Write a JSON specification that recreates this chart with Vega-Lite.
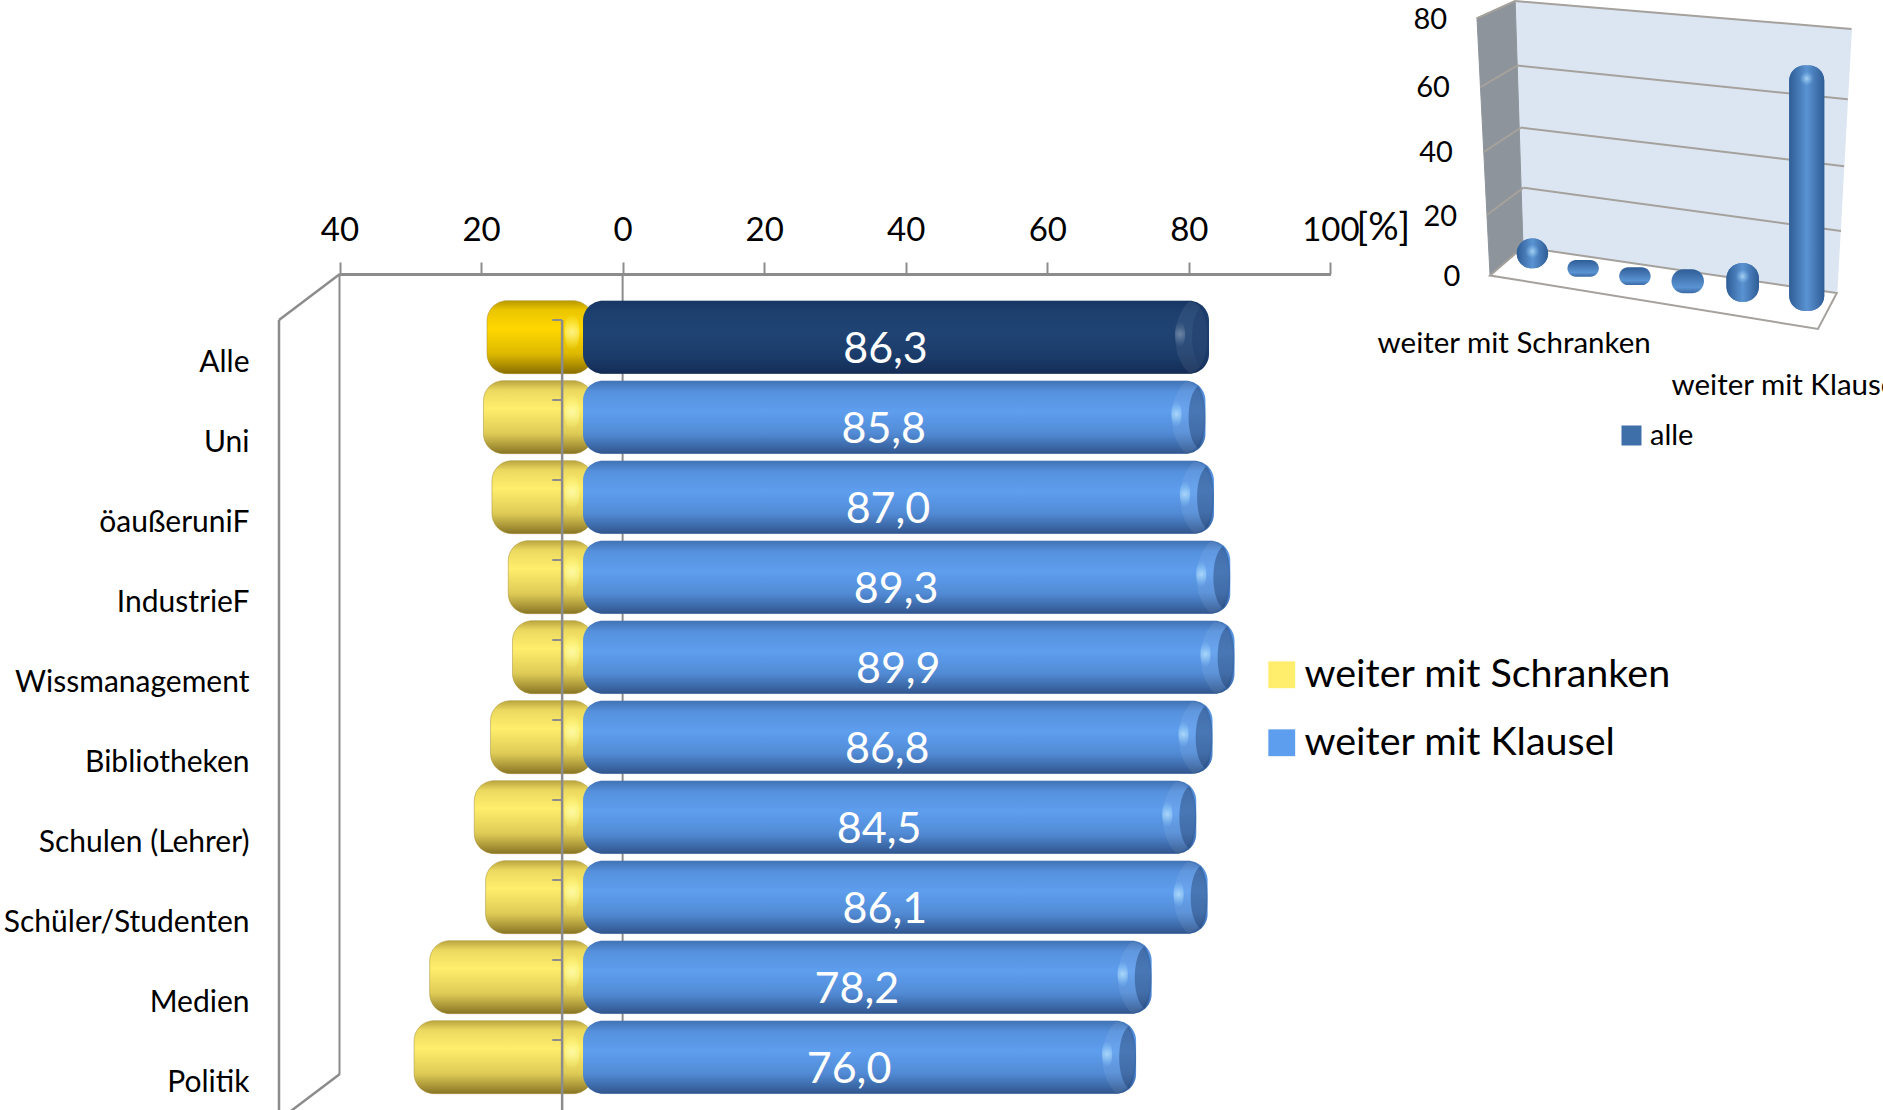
{
  "$schema": "https://vega.github.io/schema/vega-lite/v6.json",
  "width": 1883,
  "height": 1110,
  "padding": 0,
  "autosize": "none",
  "background": "white",
  "config": {
    "view": {"stroke": null},
    "text": {"font": "Lato"},
    "axis": {"labelFont": "Lato", "titleFont": "Lato", "grid": false},
    "legend": {"labelFont": "Lato"}
  },
  "datasets": {
    "umfrage": [
      {"gruppe": "Alle", "serie": "weiter mit Klausel", "wert": 86.3, "beschriftung": "86,3"},
      {"gruppe": "Uni", "serie": "weiter mit Klausel", "wert": 85.8, "beschriftung": "85,8"},
      {"gruppe": "öaußeruniF", "serie": "weiter mit Klausel", "wert": 87.0, "beschriftung": "87,0"},
      {"gruppe": "IndustrieF", "serie": "weiter mit Klausel", "wert": 89.3, "beschriftung": "89,3"},
      {"gruppe": "Wissmanagement", "serie": "weiter mit Klausel", "wert": 89.9, "beschriftung": "89,9"},
      {"gruppe": "Bibliotheken", "serie": "weiter mit Klausel", "wert": 86.8, "beschriftung": "86,8"},
      {"gruppe": "Schulen (Lehrer)", "serie": "weiter mit Klausel", "wert": 84.5, "beschriftung": "84,5"},
      {"gruppe": "Schüler/Studenten", "serie": "weiter mit Klausel", "wert": 86.1, "beschriftung": "86,1"},
      {"gruppe": "Medien", "serie": "weiter mit Klausel", "wert": 78.2, "beschriftung": "78,2"},
      {"gruppe": "Politik", "serie": "weiter mit Klausel", "wert": 76.0, "beschriftung": "76,0"},
      {"gruppe": "Alle", "serie": "weiter mit Schranken", "wert": -13.7},
      {"gruppe": "Uni", "serie": "weiter mit Schranken", "wert": -14.2},
      {"gruppe": "öaußeruniF", "serie": "weiter mit Schranken", "wert": -13.0},
      {"gruppe": "IndustrieF", "serie": "weiter mit Schranken", "wert": -10.7},
      {"gruppe": "Wissmanagement", "serie": "weiter mit Schranken", "wert": -10.1},
      {"gruppe": "Bibliotheken", "serie": "weiter mit Schranken", "wert": -13.2},
      {"gruppe": "Schulen (Lehrer)", "serie": "weiter mit Schranken", "wert": -15.5},
      {"gruppe": "Schüler/Studenten", "serie": "weiter mit Schranken", "wert": -13.9},
      {"gruppe": "Medien", "serie": "weiter mit Schranken", "wert": -21.8},
      {"gruppe": "Politik", "serie": "weiter mit Schranken", "wert": -24.0}
    ],
    "alle": [
      {"kategorie": "weiter mit Schranken", "reihe": "alle", "links": -0.12, "rechts": 0.48, "mitte": 0.18, "basis": 2.4, "spitze": 11.7, "form": "hoch"},
      {"kategorie": "Antwort 2", "reihe": "alle", "links": 0.85, "rechts": 1.45, "mitte": 1.15, "basis": -0.2, "spitze": 5.0, "form": "flach"},
      {"kategorie": "Antwort 3", "reihe": "alle", "links": 1.84, "rechts": 2.44, "mitte": 2.14, "basis": -2.8, "spitze": 2.7, "form": "flach"},
      {"kategorie": "Antwort 4", "reihe": "alle", "links": 2.84, "rechts": 3.46, "mitte": 3.15, "basis": -5.4, "spitze": 2.1, "form": "flach"},
      {"kategorie": "Antwort 5", "reihe": "alle", "links": 3.89, "rechts": 4.51, "mitte": 4.2, "basis": -8.0, "spitze": 3.95, "form": "hoch"},
      {"kategorie": "weiter mit Klausel", "reihe": "alle", "links": 5.09, "rechts": 5.76, "mitte": 5.425, "basis": -10.8, "spitze": 65.5, "form": "hoch"}
    ],
    "flaechen": [
      {"flaeche": "Rückwand", "i": 0, "x": -0.15, "y": 85.6},
      {"flaeche": "Rückwand", "i": 1, "x": 6.28, "y": 76.9},
      {"flaeche": "Rückwand", "i": 2, "x": 6.0, "y": -5.3},
      {"flaeche": "Rückwand", "i": 3, "x": 0.0, "y": 9.0},
      {"flaeche": "Seitenwand", "i": 0, "x": -0.88, "y": 80.3},
      {"flaeche": "Seitenwand", "i": 1, "x": -0.15, "y": 85.6},
      {"flaeche": "Seitenwand", "i": 2, "x": 0.0, "y": 9.0},
      {"flaeche": "Seitenwand", "i": 3, "x": -0.63, "y": 0.16},
      {"flaeche": "Boden", "i": 0, "x": -0.63, "y": 0.16},
      {"flaeche": "Boden", "i": 1, "x": 0.0, "y": 9.0},
      {"flaeche": "Boden", "i": 2, "x": 6.0, "y": -5.3},
      {"flaeche": "Boden", "i": 3, "x": 5.64, "y": -16.5}
    ]
  },
  "layer": [
    {
      "data": {"values": [{"wert": -40}, {"wert": 0}]},
      "mark": {"type": "rule", "stroke": "#8c8c8c", "strokeWidth": 2},
      "encoding": {
        "x": {
          "field": "wert",
          "type": "quantitative",
          "scale": {"domain": [-40, 100], "range": [339.5, 1330.4]},
          "axis": {
            "orient": "top",
            "offset": -274,
            "values": [-40, -20, 0, 20, 40, 60, 80, 100],
            "labelExpr": "abs(datum.value)",
            "labelFontSize": 33,
            "labelColor": "black",
            "labelPadding": 15,
            "labelFlush": false,
            "tickSize": 12,
            "tickWidth": 2,
            "tickColor": "#8c8c8c",
            "domainColor": "#8c8c8c",
            "domainWidth": 3,
            "title": "[%]",
            "titleFontSize": 38,
            "titleFontWeight": "normal",
            "titleColor": "black",
            "titleAlign": "left",
            "titleBaseline": "middle",
            "titleX": 1356,
            "titleY": -46
          }
        },
        "y": {"datum": 0, "type": "quantitative", "scale": {"domain": [0, 10], "range": [274, 1074]}, "axis": null},
        "y2": {"datum": 10}
      }
    },
    {
      "data": {"values": [
        {"x": -40, "x2": -40, "y": 0, "y2": 10},
        {"x": -31.4, "x2": -40, "y": -0.575, "y2": 0},
        {"x": -31.4, "x2": -40, "y": 9.425, "y2": 10}
      ]},
      "mark": {"type": "rule", "stroke": "#8c8c8c", "strokeWidth": 2.5},
      "encoding": {
        "x": {"field": "x", "type": "quantitative", "scale": {"domain": [-40, 100], "range": [279, 1270]}, "axis": null},
        "x2": {"field": "x2"},
        "y": {"field": "y", "type": "quantitative", "scale": {"domain": [0, 10], "range": [320, 1120]}, "axis": null},
        "y2": {"field": "y2"}
      }
    },
    {
      "data": {"name": "umfrage"},
      "encoding": {
        "y": {
          "field": "gruppe",
          "type": "nominal",
          "scale": {
            "domain": ["Alle", "Uni", "öaußeruniF", "IndustrieF", "Wissmanagement", "Bibliotheken", "Schulen (Lehrer)", "Schüler/Studenten", "Medien", "Politik"],
            "range": [297.2, 1097.2],
            "paddingInner": 0.0875,
            "paddingOuter": 0.04375
          },
          "axis": null
        },
        "x": {"field": "wert", "type": "quantitative", "scale": {"domain": [-40, 100], "range": [314.8, 1306]}, "axis": null}
      },
      "layer": [
        {
          "transform": [{"filter": "datum.serie === 'weiter mit Schranken'"}],
          "mark": {"type": "bar", "cornerRadius": 20, "xOffset": -14, "x2Offset": -5},
          "encoding": {
            "x2": {"datum": 0},
            "color": {
              "condition": {"test": "datum.gruppe === 'Alle'", "value": "#ffd800"},
              "field": "serie",
              "type": "nominal",
              "scale": {"domain": ["weiter mit Schranken", "weiter mit Klausel"], "range": ["#ffee6c", "#5e9eee"]},
              "legend": {
                "orient": "none", "legendX": 1262, "legendY": 655, "title": null,
                "symbolType": "square", "symbolSize": 720, "symbolStrokeWidth": 0,
                "labelFontSize": 39.5, "labelColor": "black", "labelOffset": 3, "rowPadding": 27,
                "labelLimit": 500
              }
            }
          }
        },
        {
          "transform": [{"filter": "datum.serie === 'weiter mit Schranken'"}],
          "mark": {
            "type": "bar", "cornerRadius": 20, "xOffset": -14, "x2Offset": -5,
            "stroke": "#a88f3a", "strokeWidth": 1, "strokeOpacity": 0.5,
            "fill": {"gradient": "linear", "x1": 0, "y1": 0, "x2": 0, "y2": 1, "stops": [
              {"offset": 0, "color": "rgba(90,65,0,0.42)"},
              {"offset": 0.13, "color": "rgba(90,65,0,0.12)"},
              {"offset": 0.38, "color": "rgba(90,65,0,0)"},
              {"offset": 0.72, "color": "rgba(90,65,0,0.2)"},
              {"offset": 1, "color": "rgba(70,50,0,0.65)"}
            ]}
          },
          "encoding": {"x2": {"datum": 0}}
        },
        {
          "transform": [{"filter": "datum.serie === 'weiter mit Schranken'"}],
          "mark": {
            "type": "point", "filled": true, "size": 5329, "xOffset": -26, "yOffset": -5,
            "fill": {"gradient": "radial", "stops": [
              {"offset": 0, "color": "rgba(255,255,190,1)"},
              {"offset": 1, "color": "rgba(255,255,120,0)"}
            ]},
            "shape": "M-0.2,0 A0.2,0.5 0 1,1 0.2,0 A0.2,0.5 0 1,1 -0.2,0 Z"
          },
          "encoding": {"x": {"datum": 0, "type": "quantitative"}}
        },
        {
          "transform": [{"filter": "datum.serie === 'weiter mit Klausel'"}],
          "mark": {"type": "bar", "cornerRadius": 20, "x2Offset": -15},
          "encoding": {
            "x2": {"datum": 0},
            "color": {
              "condition": {"test": "datum.gruppe === 'Alle'", "value": "#1f4373"},
              "field": "serie",
              "type": "nominal",
              "scale": {"domain": ["weiter mit Schranken", "weiter mit Klausel"], "range": ["#ffee6c", "#5e9eee"]},
              "legend": {
                "orient": "none", "legendX": 1262, "legendY": 655, "title": null,
                "symbolType": "square", "symbolSize": 720, "symbolStrokeWidth": 0,
                "labelFontSize": 39.5, "labelColor": "black", "labelOffset": 3, "rowPadding": 27,
                "labelLimit": 500
              }
            }
          }
        },
        {
          "transform": [{"filter": "datum.serie === 'weiter mit Klausel'"}],
          "mark": {
            "type": "bar", "cornerRadius": 20, "x2Offset": -15,
            "fill": {"gradient": "linear", "x1": 0, "y1": 0, "x2": 0, "y2": 1, "stops": [
              {"offset": 0, "color": "rgba(10,30,70,0.35)"},
              {"offset": 0.15, "color": "rgba(10,30,70,0.1)"},
              {"offset": 0.42, "color": "rgba(10,30,70,0)"},
              {"offset": 0.72, "color": "rgba(10,30,70,0.15)"},
              {"offset": 1, "color": "rgba(10,25,60,0.55)"}
            ]}
          },
          "encoding": {"x2": {"datum": 0}}
        },
        {
          "transform": [{"filter": "datum.serie === 'weiter mit Klausel'"}],
          "mark": {
            "type": "point", "filled": true, "fill": "#ffffff", "opacity": 0.07, "size": 5329,
            "shape": "M-0.55,-0.98 C-1.05,-0.5 -1.05,0.5 -0.55,0.98 C-0.2,0.98 -0.05,0.5 -0.05,0 C-0.05,-0.5 -0.2,-0.98 -0.55,-0.98 Z"
          }
        },
        {
          "transform": [{"filter": "datum.serie === 'weiter mit Klausel'"}],
          "mark": {
            "type": "point", "filled": true, "fill": "#1d3a66", "opacity": 0.42, "size": 5329,
            "shape": "M-0.2,-0.85 C-0.55,-0.6 -0.55,0.6 -0.2,0.85 C-0.04,0.65 0,0.3 0,0 C0,-0.3 -0.04,-0.65 -0.2,-0.85 Z"
          }
        },
        {
          "transform": [{"filter": "datum.serie === 'weiter mit Klausel' && datum.gruppe !== 'Alle'"}],
          "mark": {
            "type": "point", "filled": true, "size": 5329, "xOffset": -29, "yOffset": -3,
            "fill": {"gradient": "radial", "stops": [
              {"offset": 0, "color": "rgba(200,238,255,1)"},
              {"offset": 1, "color": "rgba(140,205,255,0)"}
            ]},
            "shape": "M-0.14,0 A0.14,0.36 0 1,1 0.14,0 A0.14,0.36 0 1,1 -0.14,0 Z"
          }
        },
        {
          "transform": [{"filter": "datum.serie === 'weiter mit Klausel' && datum.gruppe === 'Alle'"}],
          "mark": {
            "type": "point", "filled": true, "size": 5329, "xOffset": -29, "yOffset": -3,
            "fill": {"gradient": "radial", "stops": [
              {"offset": 0, "color": "rgba(140,160,185,1)"},
              {"offset": 1, "color": "rgba(90,115,150,0)"}
            ]},
            "shape": "M-0.14,0 A0.14,0.36 0 1,1 0.14,0 A0.14,0.36 0 1,1 -0.14,0 Z"
          }
        }
      ]
    },
    {
      "data": {"name": "umfrage"},
      "transform": [{"filter": "datum.serie === 'weiter mit Klausel'"}],
      "mark": {"type": "text", "fontSize": 43, "fill": "white", "align": "center", "baseline": "middle", "yOffset": 13},
      "encoding": {
        "x": {"field": "wert", "type": "quantitative", "scale": {"domain": [0, 100], "range": [580, 934]}, "axis": null},
        "y": {
          "field": "gruppe",
          "type": "nominal",
          "scale": {
            "domain": ["Alle", "Uni", "öaußeruniF", "IndustrieF", "Wissmanagement", "Bibliotheken", "Schulen (Lehrer)", "Schüler/Studenten", "Medien", "Politik"],
            "range": [297.2, 1097.2],
            "paddingInner": 0.0875,
            "paddingOuter": 0.04375
          },
          "axis": null
        },
        "text": {"field": "beschriftung"}
      }
    },
    {
      "data": {"values": [{"x": 0, "x2": 0, "y": 0, "y2": 10}]},
      "mark": {"type": "rule", "stroke": "#8c8c8c", "strokeWidth": 2.5},
      "encoding": {
        "x": {"field": "x", "type": "quantitative", "scale": {"domain": [-40, 100], "range": [279, 1270]}, "axis": null},
        "x2": {"field": "x2"},
        "y": {"field": "y", "type": "quantitative", "scale": {"domain": [0, 10], "range": [320, 1120]}, "axis": null},
        "y2": {"field": "y2"}
      }
    },
    {
      "data": {"name": "umfrage"},
      "transform": [{"filter": "datum.serie === 'weiter mit Klausel'"}],
      "mark": {"type": "rule", "stroke": "#8c8c8c", "strokeWidth": 2, "yOffset": -3},
      "encoding": {
        "x": {"datum": -1.4, "type": "quantitative", "scale": {"domain": [-40, 100], "range": [279, 1270]}, "axis": null},
        "x2": {"datum": 0},
        "y": {
          "field": "gruppe",
          "type": "nominal",
          "bandPosition": 0,
          "scale": {
            "domain": ["Alle", "Uni", "öaußeruniF", "IndustrieF", "Wissmanagement", "Bibliotheken", "Schulen (Lehrer)", "Schüler/Studenten", "Medien", "Politik"],
            "range": [323, 1123]
          },
          "axis": {
            "orient": "left",
            "offset": -249,
            "title": null,
            "domain": false,
            "ticks": false,
            "labelPadding": 0,
            "labelFontSize": 30,
            "labelColor": "black",
            "labelLimit": 400
          }
        }
      }
    },
    {
      "data": {"name": "flaechen"},
      "encoding": {
        "x": {"field": "x", "type": "quantitative", "scale": {"domain": [0, 6], "range": [1523, 1836.8]}, "axis": null},
        "y": {"field": "y", "type": "quantitative", "scale": {"domain": [0, 80], "range": [276, 19]}, "axis": null},
        "order": {"field": "i"}
      },
      "layer": [
        {
          "transform": [{"filter": "datum.flaeche === 'Rückwand'"}],
          "mark": {"type": "line", "interpolate": "linear-closed", "fill": "#dce6f2", "stroke": "#dce6f2", "strokeWidth": 1}
        },
        {
          "transform": [{"filter": "datum.flaeche === 'Seitenwand'"}],
          "mark": {"type": "line", "interpolate": "linear-closed", "fill": "#8d949b", "stroke": "#8d949b", "strokeWidth": 1}
        },
        {
          "transform": [{"filter": "datum.flaeche === 'Boden'"}],
          "mark": {"type": "line", "interpolate": "linear-closed", "fill": "#ffffff", "stroke": "#a5a19c", "strokeWidth": 2}
        }
      ]
    },
    {
      "data": {"values": [
        {"x": -0.15, "y": 85.6, "x2": 6.28, "y2": 76.9},
        {"x": -0.11, "y": 65.5, "x2": 6.21, "y2": 55.0},
        {"x": -0.04, "y": 46.2, "x2": 6.14, "y2": 34.2},
        {"x": 0.01, "y": 27.5, "x2": 6.08, "y2": 14.0},
        {"x": -0.89, "y": 80.2, "x2": -0.15, "y2": 85.6},
        {"x": -0.82, "y": 58.7, "x2": -0.11, "y2": 65.5},
        {"x": -0.76, "y": 38.5, "x2": -0.04, "y2": 46.2},
        {"x": -0.69, "y": 19.0, "x2": 0.01, "y2": 27.5}
      ]},
      "mark": {"type": "rule", "stroke": "#a5a19c", "strokeWidth": 2},
      "encoding": {
        "x": {"field": "x", "type": "quantitative", "scale": {"domain": [0, 6], "range": [1523, 1836.8]}, "axis": null},
        "x2": {"field": "x2"},
        "y": {"field": "y", "type": "quantitative", "scale": {"domain": [0, 80], "range": [276, 19]}, "axis": null},
        "y2": {"field": "y2"}
      }
    },
    {
      "data": {"name": "alle"},
      "encoding": {
        "x": {"field": "links", "type": "quantitative", "scale": {"domain": [0, 6], "range": [1523, 1836.8]}, "axis": null},
        "x2": {"field": "rechts"},
        "y": {"field": "basis", "type": "quantitative", "scale": {"domain": [0, 80], "range": [276, 19]}, "axis": null},
        "y2": {"field": "spitze"}
      },
      "layer": [
        {
          "mark": {"type": "rect", "cornerRadius": 15},
          "transform": [{"filter": "datum.form === 'hoch'"}],
          "encoding": {
            "color": {
              "field": "reihe",
              "type": "nominal",
              "scale": {"domain": ["alle"], "range": ["#3f6fa8"]},
              "legend": {
                "orient": "none", "legendX": 1617, "legendY": 421, "title": null,
                "symbolType": "square", "symbolSize": 400, "symbolStrokeWidth": 0,
                "labelFontSize": 29, "labelColor": "black", "labelOffset": 4
              }
            }
          }
        },
        {
          "mark": {
            "type": "rect", "cornerRadius": 15,
            "fill": {"gradient": "linear", "x1": 0, "y1": 0, "x2": 1, "y2": 0, "stops": [
              {"offset": 0, "color": "#2f5d96"},
              {"offset": 0.5, "color": "#5a93d2"},
              {"offset": 1, "color": "#2f5d96"}
            ]}
          },
          "transform": [{"filter": "datum.form === 'hoch'"}]
        },
        {
          "mark": {
            "type": "rect", "cornerRadius": 12,
            "fill": {"gradient": "linear", "x1": 0, "y1": 0, "x2": 0, "y2": 1, "stops": [
              {"offset": 0, "color": "#2f5d96"},
              {"offset": 0.75, "color": "#5a93d2"},
              {"offset": 1, "color": "#3a6aa6"}
            ]}
          },
          "transform": [{"filter": "datum.form === 'flach'"}]
        }
      ]
    },
    {
      "data": {"name": "alle"},
      "transform": [{"filter": "datum.form === 'hoch'"}],
      "mark": {
        "type": "point", "filled": true, "size": 200, "yOffset": 13,
        "fill": {"gradient": "radial", "stops": [
          {"offset": 0, "color": "rgba(200,235,255,1)"},
          {"offset": 1, "color": "rgba(150,210,255,0)"}
        ]}
      },
      "encoding": {
        "x": {"field": "mitte", "type": "quantitative", "scale": {"domain": [0, 6], "range": [1523, 1836.8]}, "axis": null},
        "y": {"field": "spitze", "type": "quantitative", "scale": {"domain": [0, 80], "range": [276, 19]}, "axis": null}
      }
    },
    {
      "data": {"values": [
        {"position": -2.78, "hoehe": -21.2, "beschriftung": "weiter mit Schranken"},
        {"position": 2.84, "hoehe": -34.3, "beschriftung": "weiter mit Klausel"}
      ]},
      "mark": {"type": "text", "fontSize": 29.5, "fill": "black", "align": "left", "baseline": "middle"},
      "encoding": {
        "x": {"field": "position", "type": "quantitative", "scale": {"domain": [0, 6], "range": [1523, 1836.8]}, "axis": null},
        "y": {"field": "hoehe", "type": "quantitative", "scale": {"domain": [0, 80], "range": [276, 19]}, "axis": null},
        "text": {"field": "beschriftung"}
      }
    },
    {
      "data": {"values": [
        {"w": 0, "kante": -1.2},
        {"w": 20, "kante": -1.26},
        {"w": 40, "kante": -1.34},
        {"w": 60, "kante": -1.4},
        {"w": 80, "kante": -1.45}
      ]},
      "mark": {"type": "text", "fontSize": 29, "fill": "black", "align": "right", "baseline": "middle"},
      "encoding": {
        "x": {"field": "kante", "type": "quantitative", "scale": {"domain": [0, 6], "range": [1523, 1836.8]}, "axis": null},
        "y": {
          "field": "w",
          "type": "quantitative",
          "scale": {"domain": [0, 20, 40, 60, 80], "range": [277, 217, 153, 88, 20]},
          "axis": null
        },
        "text": {"field": "w", "type": "quantitative"}
      }
    }
  ],
  "resolve": {
    "scale": {"x": "independent", "y": "independent", "color": "independent"},
    "axis": {"x": "independent", "y": "independent"}
  }
}
